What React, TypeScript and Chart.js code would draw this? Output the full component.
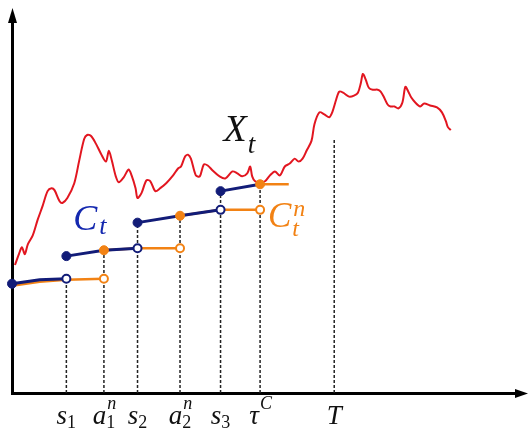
import React, { useEffect, useRef } from "react";
import { Chart, registerables } from "chart.js";

Chart.register(...registerables);

// ---- data (time on x, value on y) ----
const tickTimes = [55, 93, 127, 170, 211, 251, 326];
const tickBase = ["s", "a", "s", "a", "s", "τ", "T"];
const tickSub = ["1", "1", "2", "2", "3", "", ""];
const tickSup = ["", "n", "", "n", "", "C", ""];
const tickTops = [116, 145, 173, 180, 205, 212, 258];

const xPath: [number, number][] = [
  [3, 130], [7, 141], [10, 148], [13, 141], [16, 151], [21, 160], [26, 176], [31, 190],
  [36, 205], [40, 208], [43, 206], [48, 195], [51, 193], [56, 198], [63, 213], [68, 236],
  [73, 258], [76, 262], [80, 261], [85, 253], [90, 243], [95, 235], [98, 246], [101, 236],
  [105, 220], [108, 214], [113, 219], [118, 227], [121, 221], [125, 208], [127, 198],
  [131, 203], [136, 216], [140, 215], [145, 205], [150, 208], [156, 213], [163, 221],
  [168, 228], [171, 230], [175, 240], [178, 242], [181, 238], [186, 221], [190, 220],
  [194, 232], [198, 231], [203, 226], [210, 220], [216, 218], [223, 225], [228, 223],
  [233, 220], [238, 223], [241, 230], [243, 220], [246, 215], [251, 214], [256, 215],
  [261, 221], [266, 225], [271, 221], [276, 230], [281, 233], [286, 238], [290, 235],
  [294, 238], [298, 246], [303, 256], [306, 273], [311, 285], [316, 283], [321, 280],
  [324, 285], [328, 298], [331, 306], [335, 305], [341, 301], [346, 302], [350, 305],
  [353, 315], [355, 324], [358, 318], [361, 310], [365, 308], [370, 308], [373, 306],
  [376, 301], [380, 293], [383, 291], [387, 291], [391, 289], [395, 295], [398, 311],
  [401, 306], [404, 300], [408, 295], [413, 291], [417, 294], [423, 292], [430, 290],
  [435, 285], [439, 276], [441, 270], [444, 267],
];

const cSeg1: [number, number][] = [[0, 111], [28, 115], [55, 116]];
const cSeg2: [number, number][] = [[55, 139], [93, 145], [127, 147]];
const cSeg3: [number, number][] = [[127, 173], [170, 180], [211, 186]];
const cSeg4: [number, number][] = [[211, 205], [251, 212]];

const nSeg1: [number, number][] = [[0, 109], [28, 113], [55, 115], [93, 116]];
const nSeg2: [number, number][] = [[93, 145], [127, 147], [170, 147]];
const nSeg3: [number, number][] = [[170, 180], [211, 186], [251, 186]];
const nSeg4: [number, number][] = [[251, 212], [280, 212]];

const cFilled: [number, number][] = [[0, 111], [55, 139], [127, 173], [211, 205]];
const cOpen: [number, number][] = [[55, 116], [127, 147], [211, 186]];
const nFilled: [number, number][] = [[93, 145], [170, 180], [251, 212]];
const nOpen: [number, number][] = [[93, 116], [170, 147], [251, 186]];

const RED = "rgb(226,22,32)";
const BLUE = "rgb(18,28,120)";
const BLUE_TEXT = "rgb(20,40,175)";
const ORANGE = "rgb(242,130,20)";

const pts = (a: [number, number][]) => a.map(([x, y]) => ({ x, y }));

function drawMath(
  ctx: CanvasRenderingContext2D, x: number, y: number, base: string, sub: string, sup: string,
  size: number, subSize: number, color: string, subDy: number, supDy: number, center: boolean, gap = 1
) {
  const fam = '"Liberation Serif", "DejaVu Serif", serif';
  ctx.save();
  ctx.fillStyle = color;
  ctx.textBaseline = "alphabetic";
  ctx.textAlign = "left";
  ctx.font = `italic ${size}px ${fam}`;
  const wb = ctx.measureText(base).width;
  const subFont = (s: string) => (/^[0-9]+$/.test(s) ? `${subSize}px ${fam}` : `italic ${subSize}px ${fam}`);
  ctx.font = subFont(sub);
  const ws = sub ? ctx.measureText(sub).width : 0;
  ctx.font = subFont(sup);
  const wp = sup ? ctx.measureText(sup).width : 0;
  const total = wb + gap + Math.max(ws, wp);
  const x0 = center ? x - total / 2 : x;
  ctx.font = `italic ${size}px ${fam}`;
  ctx.fillText(base, x0, y);
  if (sub) {
    ctx.font = subFont(sub);
    ctx.fillText(sub, x0 + wb + gap, y + subDy);
  }
  if (sup) {
    ctx.font = subFont(sup);
    ctx.fillText(sup, x0 + wb + gap + 1, y + supDy);
  }
  ctx.restore();
}

const axesPlugin = {
  id: "axesArrows",
  beforeDatasetsDraw(chart: any) {
    const { ctx, chartArea } = chart;
    const x0 = chartArea.left + 0.5;
    const y0 = chartArea.bottom + 0.5;
    ctx.save();
    ctx.strokeStyle = "#000";
    ctx.fillStyle = "#000";
    ctx.lineWidth = 3;
    ctx.beginPath();
    ctx.moveTo(x0, y0 + 1.5);
    ctx.lineTo(x0, 20);
    ctx.moveTo(x0 - 1.5, y0);
    ctx.lineTo(518, y0);
    ctx.stroke();
    ctx.beginPath();
    ctx.moveTo(x0, 8);
    ctx.lineTo(x0 - 4.5, 23);
    ctx.lineTo(x0 + 4.5, 23);
    ctx.closePath();
    ctx.fill();
    ctx.beginPath();
    ctx.moveTo(528, y0);
    ctx.lineTo(515, y0 - 4.5);
    ctx.lineTo(515, y0 + 4.5);
    ctx.closePath();
    ctx.fill();
    ctx.restore();
  },
  afterDraw(chart: any) {
    const { ctx } = chart;
    const xs = chart.scales.x;
    const ys = chart.scales.y;
    const baseY = chart.chartArea.bottom + 31;
    tickTimes.forEach((t, i) => {
      drawMath(ctx, xs.getPixelForValue(t), baseY, tickBase[i], tickSub[i], tickSup[i], 27, 18, "#111", 4, -15, true, 0);
    });
    drawMath(ctx, xs.getPixelForValue(62), ys.getPixelForValue(166), "C", "t", "", 36, 26, BLUE_TEXT, 4, 0, false, 2);
    drawMath(ctx, xs.getPixelForValue(214), ys.getPixelForValue(256), "X", "t", "", 38, 27, "#111", 12, 0, false, 1);
    drawMath(ctx, xs.getPixelForValue(259), ys.getPixelForValue(169), "C", "t", "n", 35, 24, ORANGE, 9, -11, false, 1);
  },
};

export default function App() {
  const ref = useRef<HTMLCanvasElement>(null);
  useEffect(() => {
    if (!ref.current) return;
    const line = (data: [number, number][], color: string, width: number, order: number, extra: any = {}) => ({
      data: pts(data), borderColor: color, borderWidth: width, pointRadius: 0, tension: 0,
      fill: false, order, clip: false, ...extra,
    });
    const marks = (data: [number, number][], color: string, open: boolean, order: number, r: number) => ({
      data: pts(data), showLine: false, pointRadius: r, pointBorderWidth: open ? 2 : 1,
      pointBackgroundColor: open ? "#fff" : color, pointBorderColor: color, order, clip: false,
    });
    const dashed = tickTimes.map((t, i) =>
      line([[t, 0], [t, tickTops[i]]], "#222", 1.5, 6, { borderDash: [3, 2] })
    );
    const chart = new Chart(ref.current, {
      type: "line",
      data: {
        datasets: [
          ...dashed,
          line(xPath, RED, 2, 5, { tension: 0.3 }),
          line(nSeg1, ORANGE, 2.5, 4),
          line(nSeg2, ORANGE, 2.5, 4),
          line(nSeg3, ORANGE, 2.5, 4),
          line(nSeg4, ORANGE, 2.5, 4),
          line(cSeg1, BLUE, 3, 3),
          line(cSeg2, BLUE, 3, 3),
          line(cSeg3, BLUE, 3, 3),
          line(cSeg4, BLUE, 3, 3),
          marks(cFilled, BLUE, false, 1, 4.5),
          marks(cOpen, BLUE, true, 1, 4),
          marks(nFilled, ORANGE, false, 0, 4.5),
          marks(nOpen, ORANGE, true, 0, 4),
        ] as any,
      },
      options: {
        animation: false,
        responsive: false,
        maintainAspectRatio: false,
        layout: { padding: { left: 12, right: 0, top: 0, bottom: 38 } },
        scales: {
          x: { type: "linear", min: 0, max: 517, display: false },
          y: { type: "linear", min: 0, max: 393, display: false },
        },
        plugins: { legend: { display: false }, tooltip: { enabled: false } },
        events: [],
      },
      plugins: [axesPlugin],
    });
    return () => chart.destroy();
  }, []);
  return (
    <div style={{ position: "absolute", left: 0, top: 0, width: 529, height: 431, background: "#fff" }}>
      <canvas ref={ref} width={529} height={431} style={{ display: "block" }} />
    </div>
  );
}
